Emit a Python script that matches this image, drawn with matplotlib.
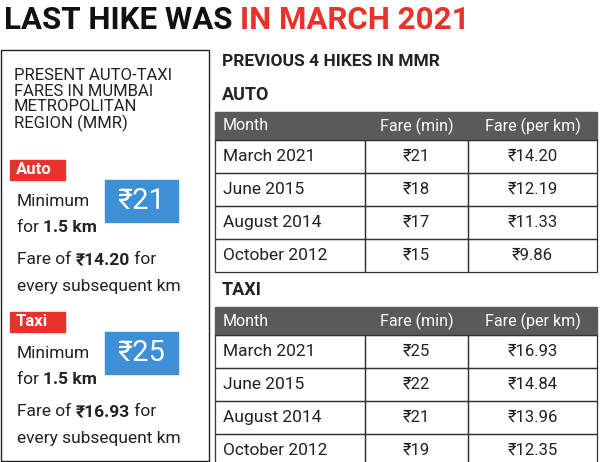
import matplotlib
matplotlib.use("Agg")
import matplotlib.pyplot as plt
from matplotlib.patches import Rectangle

months = ["March 2021", "June 2015", "August 2014", "October 2012"]
auto_min = ["₹21", "₹18", "₹17", "₹15"]
auto_km = ["₹14.20", "₹12.19", "₹11.33", "₹9.86"]
taxi_min = ["₹25", "₹22", "₹21", "₹19"]
taxi_km = ["₹16.93", "₹14.84", "₹13.96", "₹12.35"]
headers = ["Month", "Fare (min)", "Fare (per km)"]

FN = ["Roboto", "DejaVu Sans"]
RED = "#e8322b"; BLUE = "#3d8fd6"; GRAY = "#5a5a5a"; INK = "#222"

fig = plt.figure(figsize=(6, 4.62), dpi=100)
ax = fig.add_axes([0, 0, 1, 1])
ax.set_xlim(0, 600); ax.set_ylim(462, 0); ax.axis("off")

def chain(x, y, parts, size):
    t = ax.text(x, y, parts[0][0], fontsize=size, family=FN, va="center",
                fontweight=parts[0][1], color=parts[0][2])
    for s, w, c in parts[1:]:
        t = ax.annotate(s, xy=(1, 0.5), xycoords=t, va="center", ha="left",
                        fontsize=size, family=FN, fontweight=w, color=c)
    return t

chain(4, 20, [("LAST HIKE WAS ", "bold", "#111"), ("IN MARCH 2021", "bold", RED)], 22.5)

# left panel
ax.add_patch(Rectangle((1, 50), 208, 411, fill=False, ec="#222", lw=1))
ax.text(14, 100, "PRESENT AUTO-TAXI\nFARES IN MUMBAI\nMETROPOLITAN\nREGION (MMR)", fontsize=12, family=FN,
        va="center", linespacing=1.05, color=INK)

def side(y0, label, amt, fare):
    ax.add_patch(Rectangle((10, y0), 55, 20, color=RED))
    ax.text(16, y0 + 10, label, fontsize=12, fontweight="bold", color="white", family=FN, va="center")
    ax.text(17, y0 + 42, "Minimum", fontsize=12.5, family=FN, va="center", color=INK)
    ax.add_patch(Rectangle((105, y0 + 20), 73, 42, color=BLUE))
    ax.text(141, y0 + 41, amt, fontsize=21, family=FN, va="center", ha="center", color="white")
    chain(17, y0 + 67, [("for ", "normal", INK), ("1.5 km", "bold", INK)], 12.5)
    chain(17, y0 + 100, [("Fare of ", "normal", INK), (fare, "bold", INK), (" for", "normal", INK)], 12.5)
    ax.text(17, y0 + 127, "every subsequent km", fontsize=12.5, family=FN, va="center", color=INK)

side(160, "Auto", auto_min[0], auto_km[0])
side(312, "Taxi", taxi_min[0], taxi_km[0])

# right panel
ax.text(222, 62, "PREVIOUS 4 HIKES IN MMR", fontsize=12.5, fontweight="bold", family=FN, va="center", color=INK)
cols = [215, 365, 468, 597]

def table(ytitle, title, mins, kms):
    ax.text(222, ytitle, title, fontsize=13, fontweight="bold", family=FN, va="center", color=INK)
    yh = ytitle + 17
    ax.add_patch(Rectangle((cols[0], yh), cols[3] - cols[0], 28, color=GRAY))
    for i, h in enumerate(headers):
        if i == 0:
            ax.text(cols[0] + 8, yh + 14, h, fontsize=11.5, family=FN, color="white", va="center")
        else:
            ax.text((cols[i] + cols[i + 1]) / 2, yh + 14, h, fontsize=11.5, family=FN, color="white", va="center", ha="center")
    for r in range(4):
        y = yh + 28 + r * 33
        for c in range(3):
            ax.add_patch(Rectangle((cols[c], y), cols[c + 1] - cols[c], 33, fill=False, ec="#333", lw=0.9))
        ax.text(cols[0] + 8, y + 16.5, months[r], fontsize=12.5, family=FN, va="center", color=INK)
        ax.text((cols[1] + cols[2]) / 2, y + 16.5, mins[r], fontsize=12, family=FN, va="center", ha="center", color=INK)
        ax.text((cols[2] + cols[3]) / 2, y + 16.5, kms[r], fontsize=12, family=FN, va="center", ha="center", color=INK)

table(95, "AUTO", auto_min, auto_km)
table(290, "TAXI", taxi_min, taxi_km)

fig.savefig("out.png", dpi=100)
